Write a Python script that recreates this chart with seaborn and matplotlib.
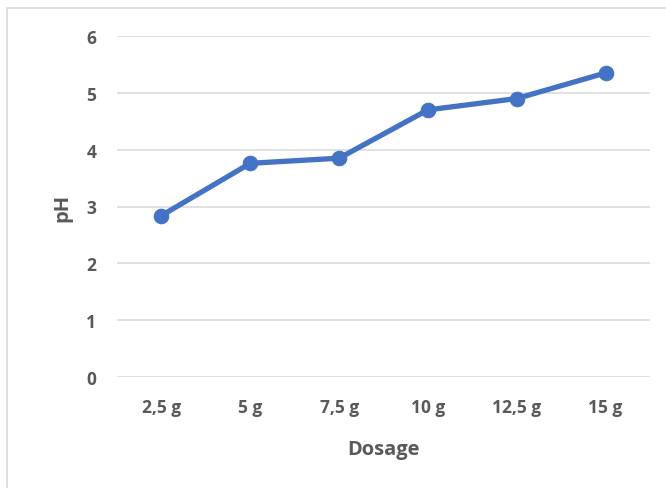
import matplotlib
matplotlib.use("Agg")
import matplotlib.pyplot as plt
import seaborn as sns
import pandas as pd
from matplotlib.patches import Rectangle

dosages = ["2,5 g", "5 g", "7,5 g", "10 g", "12,5 g", "15 g"]
ph_values = [2.84, 3.76, 3.85, 4.70, 4.90, 5.35]
y_ticks = [0, 1, 2, 3, 4, 5, 6]


def main():
    df = pd.DataFrame({"Dosage": dosages, "pH": ph_values})

    sns.set_style("white")
    plt.rcParams["font.family"] = ["Open Sans", "DejaVu Sans"]
    text_color = "#595959"

    fig = plt.figure(figsize=(6.66, 4.89), dpi=100)
    ax = fig.add_axes([117 / 666, 1 - 378 / 489, 533 / 666, 341 / 489])

    # chart border (cropped on right and bottom)
    fig.patches.append(Rectangle((7 / 666, -0.1), 1.2, 1 - 9 / 489 + 0.1,
                                 transform=fig.transFigure, fill=False,
                                 edgecolor="#D9D9D9", linewidth=1.2))

    sns.lineplot(data=df, x="Dosage", y="pH", ax=ax, sort=False,
                 color="#4472C4", linewidth=3.8, marker="o", markersize=10.5,
                 markeredgecolor="#4472C4")

    ax.set_xlim(-0.5, len(dosages) - 0.5)
    ax.set_ylim(0, 6)
    ax.set_yticks(y_ticks)
    ax.yaxis.grid(True, color="#D9D9D9", linewidth=1.1)
    ax.set_axisbelow(True)
    for s in ax.spines.values():
        s.set_visible(False)
    ax.tick_params(axis="both", length=0, labelsize=12.5, labelcolor=text_color)
    ax.tick_params(axis="y", pad=15)
    ax.tick_params(axis="x", pad=15)
    for lbl in ax.get_xticklabels() + ax.get_yticklabels():
        lbl.set_fontweight("bold")

    ax.set_xlabel("Dosage", fontsize=14.5, fontweight="bold", color=text_color, labelpad=17)
    ax.set_ylabel("pH", fontsize=14.5, fontweight="bold", color=text_color, labelpad=10)

    fig.savefig("out.png", dpi=100)


if __name__ == "__main__":
    main()
